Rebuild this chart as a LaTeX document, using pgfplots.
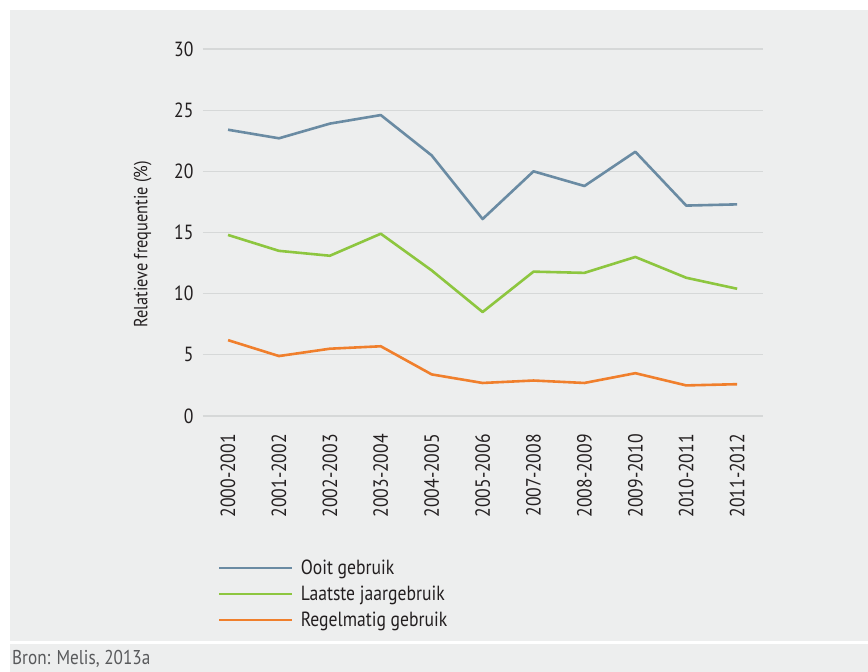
\documentclass[border=0pt]{standalone}
\usepackage{fontspec}
\setmainfont{PT Sans}[FakeStretch=0.86]
\usepackage{pgfplots}
\pgfplotsset{compat=1.18}
\definecolor{bg}{HTML}{EDEEEE}
\definecolor{ooit}{HTML}{6A8BA3}
\definecolor{laatste}{HTML}{8DC63F}
\definecolor{regel}{HTML}{F07F2C}
\definecolor{gridc}{HTML}{D6D8D8}
\definecolor{txt}{HTML}{231F20}
\definecolor{bron}{HTML}{58595B}
\begin{document}
\begin{tikzpicture}[x=1pt,y=1pt]
\fill[white] (0,0) rectangle (868,672);
\fill[bg] (10,31) rectangle (868,662);
\fill[bg] (10,0) rectangle (868,28);
\node[anchor=west, text=bron, inner sep=0pt, font=\fontsize{20}{24}\selectfont] at (12,13) {Bron: Melis, 2013a};
\begin{axis}[
  at={(202.6pt,256pt)}, anchor=south west,
  scale only axis, width=560pt, height=367pt,
  xmin=-0.5, xmax=10.5, ymin=0, ymax=30,
  ytick={0,5,...,30}, xtick={0,...,10},
  xticklabels={2000-2001,2001-2002,2002-2003,2003-2004,2004-2005,2005-2006,2007-2008,2008-2009,2009-2010,2010-2011,2011-2012},
  axis line style={draw=none},
  major tick length=0pt,
  ymajorgrids, grid style={gridc, line width=1.2pt},
  tick label style={text=txt, font=\fontsize{20.5}{24}\selectfont},
  /pgf/number format/assume math mode=true,
  xticklabel style={rotate=90, anchor=east, inner sep=0pt, xshift=-18pt},
  yticklabel style={anchor=east, inner sep=0pt, xshift=-9pt},
  ylabel={Relatieve frequentie (\%)},
  ylabel style={text=txt, font=\fontsize{19}{22}\selectfont, at={(axis description cs:-0.107,0.468)}, anchor=center},
  legend style={at={(axis description cs:0.0275,-0.386)}, anchor=north west, draw=none, fill=none, inner sep=0pt, row sep=6pt, column sep=6pt, font=\fontsize{20.5}{24}\selectfont, text=txt, legend cell align=left},
  legend image code/.code={\draw[#1] (0pt,0pt) -- (72pt,0pt);},
  every axis plot/.append style={line width=2.6pt, line join=round},
]
\addplot[ooit] coordinates {(0,23.4) (1,22.7) (2,23.9) (3,24.6) (4,21.3) (5,16.1) (6,20.0) (7,18.8) (8,21.6) (9,17.2) (10,17.3)};
\addlegendentry{Ooit gebruik}
\addplot[laatste] coordinates {(0,14.8) (1,13.5) (2,13.1) (3,14.9) (4,11.9) (5,8.5) (6,11.8) (7,11.7) (8,13.0) (9,11.3) (10,10.4)};
\addlegendentry{Laatste jaargebruik}
\addplot[regel] coordinates {(0,6.2) (1,4.9) (2,5.5) (3,5.7) (4,3.4) (5,2.7) (6,2.9) (7,2.7) (8,3.5) (9,2.5) (10,2.6)};
\addlegendentry{Regelmatig gebruik}
\end{axis}
\end{tikzpicture}
\end{document}
